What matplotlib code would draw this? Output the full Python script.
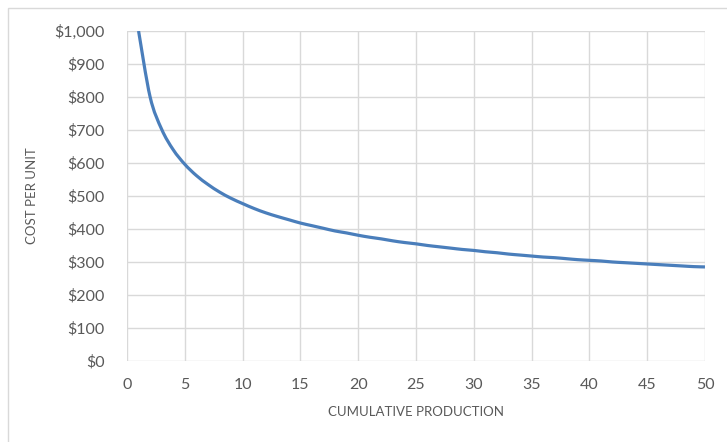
import matplotlib
matplotlib.use("Agg")
import matplotlib.pyplot as plt
from matplotlib.patches import Rectangle, PathPatch
from matplotlib.path import Path
from matplotlib.ticker import FuncFormatter

# cumulative units produced and the cost per unit
units = list(range(1, 51))
cost = [1000, 800, 702, 640, 596, 562, 535, 512, 493, 477,
        462, 449, 438, 428, 418, 410, 402, 394, 388, 381,
        375, 370, 364, 359, 355, 350, 346, 342, 338, 335,
        331, 328, 324, 321, 318, 315, 313, 310, 307, 305,
        303, 300, 298, 296, 294, 292, 290, 288, 286, 285]

x_ticks = list(range(0, 51, 5))
y_ticks = list(range(0, 1001, 100))


def smooth_path(xs, ys):
    # Excel style smoothed line: bezier segments through every data point
    pts = list(zip(xs, ys))
    verts = [pts[0]]
    codes = [Path.MOVETO]
    n = len(pts)
    for i in range(n - 1):
        p0 = pts[i - 1] if i > 0 else pts[i]
        p1 = pts[i]
        p2 = pts[i + 1]
        p3 = pts[i + 2] if i + 2 < n else pts[i + 1]
        c1 = (p1[0] + (p2[0] - p0[0]) / 6, p1[1] + (p2[1] - p0[1]) / 6)
        c2 = (p2[0] - (p3[0] - p1[0]) / 6, p2[1] - (p3[1] - p1[1]) / 6)
        verts += [c1, c2, p2]
        codes += [Path.CURVE4] * 3
    return Path(verts, codes)


plt.rcParams['font.family'] = ['Lato', 'DejaVu Sans']

fig = plt.figure(figsize=(7.27, 4.42), dpi=100)
fig.patches.append(Rectangle((8/727, -0.05), 1, 1.05 - 8/442, transform=fig.transFigure,
                             fill=False, edgecolor='#d9d9d9', linewidth=1))

ax = fig.add_axes([0.1747, 0.1833, 0.795, 0.7466])
ax.add_patch(PathPatch(smooth_path(units, cost), fill=False, edgecolor='#4a7ebb',
                       linewidth=2.3, capstyle='butt'))

ax.set_xlim(0, 50)
ax.set_ylim(0, 1000)
ax.set_xticks(x_ticks)
ax.set_yticks(y_ticks)
ax.yaxis.set_major_formatter(FuncFormatter(lambda v, p: f"${v:,.0f}"))
ax.grid(True, color='#d9d9d9', linewidth=1)
ax.set_axisbelow(True)
for s in ax.spines.values():
    s.set_visible(False)
ax.tick_params(length=0, colors='#595959', labelsize=11.5)
ax.tick_params(axis='y', pad=16)
ax.tick_params(axis='x', pad=12)

ax.set_xlabel("CUMULATIVE PRODUCTION", color='#595959', fontsize=9.5, labelpad=10)
ax.set_ylabel("COST PER UNIT", color='#595959', fontsize=9.5, labelpad=12)

fig.savefig("out.png", dpi=100)
